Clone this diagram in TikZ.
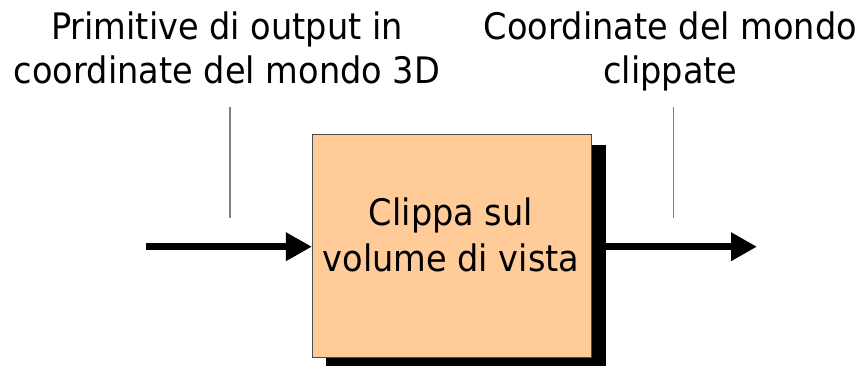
\documentclass[tikz,border=0pt]{standalone}
\usepackage{fontspec}
\setmainfont{DejaVu Sans}[FakeStretch=0.92]
\usetikzlibrary{arrows.meta,shadows}
\definecolor{peach}{HTML}{FFCC99}
\definecolor{guide}{HTML}{808080}
\tikzset{
  lbl/.style={align=center,font=\fontsize{36.5}{44}\selectfont,inner sep=0pt,anchor=base},
  procbox/.style={draw=black!70,line width=0.8pt,fill=peach,minimum width=279.4pt,minimum height=223.4pt,
    inner sep=0pt,
    drop shadow={shadow xshift=14pt,shadow yshift=-11pt,fill=black,opacity=1}},
  flow/.style={line width=7pt,-{Triangle[length=26pt,width=27pt]}},
  guideline/.style={draw=guide,line width=1.5pt}
}
\begin{document}
\begin{tikzpicture}[x=1pt,y=-1pt]
\clip (0,0) rectangle (868,365);
\useasboundingbox (0,0) rectangle (868,365);
\node[procbox] (box) at (452,246) {};
\node[lbl,font=\fontsize{36.5}{46}\selectfont] (boxtext) at (451,271) {Clippa sul\\volume di vista};
\coordinate (in) at (146,246.7);
\coordinate (out) at (757,246.7);
\draw[flow] (in) -- (box.west |- in);
\draw[flow] (box.east |- out) -- (out);
\node[lbl] (ltext) at (227,83.3) {Primitive di output in\\coordinate del mondo 3D};
\node[lbl] (rtext) at (670.5,83.3) {Coordinate del mondo\\clippate};
\coordinate (l1) at (230,107);
\coordinate (l2) at (230,218);
\coordinate (r1) at (673.7,107);
\coordinate (r2) at (673.7,218);
\draw[guideline] (l1) -- (l2);
\draw[guideline] (r1) -- (r2);
\end{tikzpicture}
\end{document}
